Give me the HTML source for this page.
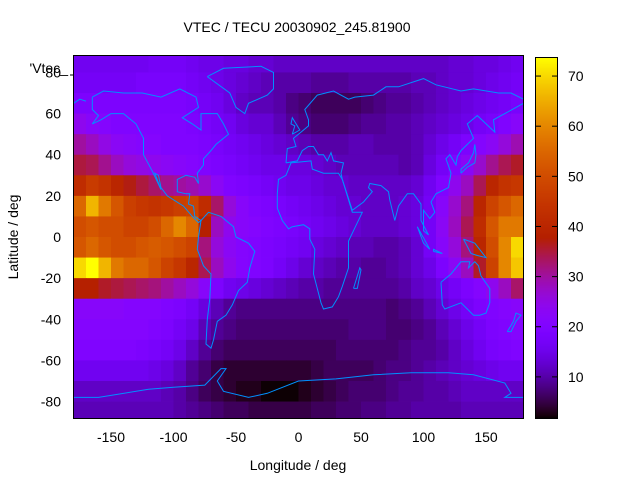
<!DOCTYPE html>
<html><head><meta charset="utf-8"><style>
html,body{margin:0;padding:0;background:#fff;}
svg{display:block;font-family:"Liberation Sans",sans-serif;}
</style></head><body>
<svg id="chart" width="640" height="480" viewBox="0 0 640 480">
<rect width="640" height="480" fill="#fff"/>
<text x="297" y="32" font-size="14" text-anchor="middle">VTEC / TECU 20030902_245.81900</text>
<g id="heat"></g>
<g id="coast"></g>
<rect x="73.5" y="55.5" width="450" height="363" fill="none" stroke="#000" stroke-width="1"/>
<g id="axes"></g>
<text x="68" y="73" font-size="14" text-anchor="end">'Vtec_</text>
<line x1="70" y1="75" x2="74" y2="75" stroke="#000"/>
<text x="298" y="470" font-size="14" text-anchor="middle">Longitude / deg</text>
<text x="18" y="237" font-size="14" text-anchor="middle" transform="rotate(-90 18 237)">Latitude / deg</text>
<g id="cbar"></g>
</svg>
<script>
const lonCenters=[-175,-165,-155,-145,-135,-125,-115,-105,-95,-85,-75,-65,-55,-45,-35,-25,-15,-5,5,15,25,35,45,55,65,75,85,95,105,115,125,135,145,155,165,175];
const latCenters=[85,75,65,55,45,35,25,15,5,-5,-15,-25,-35,-45,-55,-65,-75,-85];
const vtec=[
[16,16,16,16,16,16,17,17,17,16,15,15,14,14,13,13,12,12,12,12,12,12,12,12,12,12,12,12,12,12,13,13,14,14,15,16],
[17,17,17,17,17,18,18,18,18,17,16,15,14,13,12,11,10,10,10,9,9,9,10,10,10,10,10,11,11,12,13,13,14,15,16,17],
[19,19,19,19,19,19,19,19,19,18,17,16,14,12,11,11,10,8,7,6,6,6,6,7,8,9,9,10,11,12,13,14,15,16,17,18],
[24,22,21,20,20,20,20,20,20,19,18,17,16,14,13,13,11,9,8,7,7,7,8,9,9,10,10,11,12,13,14,15,17,18,20,22],
[30,28,25,23,22,21,21,20,20,20,19,18,17,16,15,14,13,12,11,10,10,10,11,11,10,10,10,11,13,15,17,19,21,23,26,29],
[35,34,31,28,26,25,24,23,22,21,20,19,18,17,16,15,15,14,14,13,12,11,11,11,11,11,10,11,14,17,20,23,27,31,34,36],
[42,46,44,40,37,35,33,31,30,29,27,23,20,19,18,17,16,15,15,14,13,13,12,12,12,12,12,13,16,20,24,28,34,40,44,45],
[55,66,58,52,47,45,44,45,47,48,42,33,26,22,20,19,18,17,16,15,14,13,13,12,12,12,13,14,17,22,27,32,40,48,52,55],
[50,52,50,50,48,48,50,55,60,55,38,28,24,22,21,20,19,18,17,16,15,14,13,12,12,12,13,14,17,23,28,34,42,52,58,58],
[52,55,52,50,50,52,53,52,50,48,32,26,23,21,20,19,18,17,16,14,13,12,11,11,10,10,11,13,17,22,26,32,40,50,60,70],
[70,74,66,58,55,55,52,48,45,40,34,28,24,21,20,19,17,15,13,12,11,10,10,9,9,10,11,13,15,19,23,28,36,48,60,68],
[38,38,36,35,34,33,32,30,28,26,22,19,16,15,14,13,12,11,10,10,9,9,9,9,9,9,10,12,13,15,17,19,21,24,28,33],
[22,22,22,22,21,21,21,20,19,17,14,11,9,8,8,8,8,8,8,8,8,8,8,8,8,7,8,9,11,13,15,17,19,20,21,22],
[21,21,21,21,21,21,20,19,17,15,11,9,8,7,7,7,7,7,7,7,7,7,8,8,8,7,7,8,9,11,13,15,17,19,20,21],
[20,20,20,20,20,19,18,17,15,12,9,7,6,6,6,6,6,6,6,6,6,7,7,7,7,7,8,9,9,10,12,14,16,18,19,20],
[16,16,16,16,16,16,15,14,12,9,7,5,4,4,4,4,4,4,4,5,6,6,6,6,7,8,8,9,10,11,12,13,14,15,16,16],
[12,12,12,12,12,12,12,11,10,8,6,5,4,3,3,2,2,2,3,4,5,6,7,7,7,8,9,9,10,10,11,12,12,12,12,12],
[11,11,11,11,11,11,11,11,10,9,8,7,6,6,5,5,5,5,5,6,6,7,7,8,8,9,9,10,10,10,10,11,11,11,11,11]
];
const xTicks=[-150,-100,-50,0,50,100,150];
const yTicks=[80,60,40,20,0,-20,-40,-60,-80];
const cbTicks=[10,20,30,40,50,60,70];
const cbMin=1.8, cbMax=73.8;

const NS="http://www.w3.org/2000/svg";
const X0=73.5,X1=523.5,Y0=55.5,Y1=418.5;
function xs(lon){return X0+(lon+180)/360*(X1-X0);}
function ys(lat){return 237-lat*2.057;}
function cy(v){return 418-(v-cbMin)/(cbMax-cbMin)*361;}
function pal(v){
  let t=Math.max(0,Math.min(1,(v-cbMin)/(cbMax-cbMin)));
  let r=Math.sqrt(t),g=t*t*t,b=Math.max(0,Math.sin(2*Math.PI*t));
  return `rgb(${Math.round(r*255)},${Math.round(g*255)},${Math.round(b*255)})`;
}
function mk(tag,attrs,parent){const e=document.createElementNS(NS,tag);for(const k in attrs)e.setAttribute(k,attrs[k]);parent.appendChild(e);return e;}

const heat=document.getElementById('heat');
latCenters.forEach((lat,i)=>{
  lonCenters.forEach((lon,j)=>{
    let yt=Math.max(Y0,ys(lat+5)),yb=Math.min(Y1,ys(lat-5));
    const r=mk('rect',{x:xs(lon-5),y:yt,width:xs(lon+5)-xs(lon-5)+0.4,height:yb-yt+0.4,fill:pal(vtec[i][j])},heat);
    
    
  });
});

const coasts=[
[[-165,68],[-156,71],[-140,70],[-125,70],[-110,68],[-95,72],[-82,68],[-80,63],[-93,58],[-85,55],[-78,52],[-78,60],[-65,60],[-60,55],[-56,50],[-66,45],[-70,42],[-76,38],[-76,35],[-81,31],[-80,26],[-83,29],[-90,30],[-97,28],[-97,22],[-90,21],[-87,21],[-88,16],[-84,15],[-83,10],[-78,8],[-80,7],[-85,10],[-92,15],[-105,20],[-110,24],[-112,30],[-115,31],[-110,23],[-117,32],[-124,40],[-124,48],[-130,55],[-140,60],[-150,60],[-158,57],[-165,55],[-160,59],[-165,62],[-165,68]],
[[-78,8],[-72,12],[-62,10],[-52,5],[-50,0],[-40,-3],[-35,-7],[-39,-15],[-41,-22],[-48,-26],[-53,-33],[-58,-38],[-65,-41],[-68,-50],[-70,-54],[-74,-52],[-73,-40],[-71,-30],[-70,-18],[-76,-14],[-81,-6],[-80,0],[-78,8]],
[[-17,21],[-16,28],[-10,30],[-6,36],[10,37],[11,33],[20,31],[32,31],[35,28],[43,12],[51,12],[40,-2],[40,-15],[35,-24],[32,-29],[27,-34],[20,-35],[18,-32],[12,-18],[13,-6],[9,-1],[9,4],[4,6],[-5,5],[-8,4],[-13,8],[-17,14],[-17,21]],
[[-10,36],[-9,43],[-2,44],[-4,48],[2,51],[8,54],[8,57],[5,62],[15,69],[28,71],[40,67],[45,68],[60,69],[70,73],[80,73],[100,77],[110,74],[130,71],[140,72],[160,70],[170,70],[180,67]],
[[180,65],[165,60],[156,57],[157,51],[143,59],[135,55],[140,48],[130,42],[127,39],[126,35],[121,40],[118,38],[122,31],[120,24],[110,21],[106,17],[109,12],[105,9],[100,13],[100,3],[104,1],[98,8],[98,16],[92,21],[87,21],[80,15],[77,8],[73,18],[72,22],[66,25],[57,26],[56,24],[59,22],[52,17],[43,13],[35,28],[34,31],[36,36],[28,37],[26,41],[23,37],[20,40],[16,40],[12,44],[8,44],[3,42],[-1,37],[-10,36]],
[[114,-22],[122,-18],[130,-12],[137,-12],[136,-15],[141,-12],[144,-14],[146,-19],[153,-25],[153,-32],[150,-37],[145,-38],[140,-38],[135,-35],[130,-32],[117,-35],[115,-33],[114,-22]],
[[-73,78],[-60,82],[-30,83],[-20,80],[-20,72],[-25,69],[-40,65],[-43,60],[-50,63],[-55,70],[-73,78]],
[[-180,-78],[-170,-78],[-160,-78],[-150,-77],[-120,-74],[-100,-73],[-75,-72],[-62,-64],[-58,-64],[-65,-70],[-60,-75],[-40,-78],[-25,-76],[0,-70],[30,-69],[60,-67],[90,-66],[120,-66],[140,-67],[165,-71],[170,-76],[165,-78],[180,-78]],
[[-5,50],[1,52],[-3,56],[-5,58],[-6,55],[-3,54],[-5,50]],
[[130,31],[135,34],[141,36],[142,40],[141,45],[140,41],[136,36],[130,33],[130,31]],
[[95,5],[105,-6],[100,-3],[95,5]],[[108,-7],[115,-8],[108,-6],[108,-7]],
[[132,-1],[141,-3],[150,-10],[143,-9],[138,-8],[132,-1]],
[[167,-46],[172,-41],[174,-37],[178,-38],[174,-41],[170,-46],[167,-46]],
[[44,-25],[49,-15],[50,-16],[47,-25],[44,-25]],
[[-180,65],[-175,67],[-170,66]]
];
const coast=document.getElementById('coast');
coasts.forEach(c=>{
  const p=mk('polyline',{points:c.map(q=>xs(q[0]).toFixed(1)+','+ys(Math.max(-88,Math.min(88,q[1]))).toFixed(1)).join(' '),fill:'none',stroke:'#0090ff','stroke-width':1},coast);
  
  
});

const axes=document.getElementById('axes');
xTicks.forEach(v=>{
  const t=mk('text',{x:xs(v),y:442,'font-size':14,'text-anchor':'middle'},axes);t.textContent=v;
  
  
});
yTicks.forEach(v=>{
  const t=mk('text',{x:61,y:ys(v)+5,'font-size':14,'text-anchor':'end'},axes);t.textContent=v;
  
  
});

const cb=document.getElementById('cbar');
for(let k=0;k<361;k++){
  const v=cbMin+(k+0.5)/361*(cbMax-cbMin);
  const r=mk('rect',{x:535,y:418-k-1,width:22,height:1.2,fill:pal(v)},cb);
  
  
}
const cbb=mk('rect',{x:535.5,y:57.5,width:22,height:361,fill:'none',stroke:'#000'},cb);


cbTicks.forEach(v=>{
  const l1=mk('line',{x1:535.5,x2:541,y1:cy(v),y2:cy(v),stroke:'#000'},cb);
  
  
  const l2=mk('line',{x1:552,x2:557.5,y1:cy(v),y2:cy(v),stroke:'#000'},cb);
  
  
  const t=mk('text',{x:568,y:cy(v)+5,'font-size':14},cb);t.textContent=v;
  
  
});
</script>
</body></html>
